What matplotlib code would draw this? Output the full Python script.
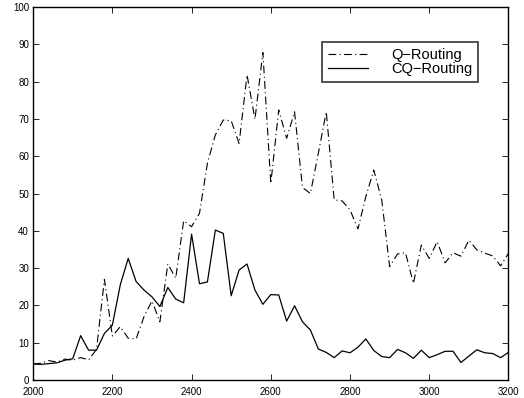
import numpy as np
from matplotlib import pyplot as plt

plt.rcParams['font.family'] = ['Liberation Sans', 'DejaVu Sans']

# load levels sampled every 20 units
load = np.arange(2000, 3201, 20)

q_routing = [4.3, 4.5, 5.2, 4.8, 5.6, 5.3, 6.0, 5.4, 8.2, 27.0,
             11.8, 14.3, 11.2, 11.0, 17.0, 21.2, 15.6, 31.1, 27.3, 42.7,
             41.1, 44.7, 58.1, 65.7, 69.7, 69.5, 63.4, 81.8, 69.9, 87.8,
             52.7, 72.4, 64.8, 71.9, 51.6, 50.0, 60.8, 71.9, 48.3, 48.0,
             45.6, 40.5, 49.2, 56.3, 48.3, 30.4, 33.8, 34.1, 25.9, 36.2,
             32.6, 37.1, 31.4, 34.1, 33.2, 37.5, 34.9, 34.0, 33.3, 30.6,
             34.0]

cq_routing = [4.3, 4.2, 4.4, 4.6, 5.3, 5.7, 11.9, 8.0, 8.0, 12.5,
              14.7, 25.5, 32.6, 26.4, 24.1, 22.3, 19.7, 24.8, 21.7, 20.7,
              39.1, 25.8, 26.3, 40.2, 39.3, 22.6, 29.5, 31.1, 24.1, 20.3,
              22.9, 22.8, 15.8, 19.9, 15.6, 13.4, 8.3, 7.4, 6.0, 7.8,
              7.3, 8.8, 11.0, 7.9, 6.3, 6.0, 8.2, 7.3, 5.8, 8.0,
              6.0, 6.8, 7.7, 7.7, 4.7, 6.4, 8.1, 7.3, 7.1, 6.0,
              7.4]

fig = plt.figure(figsize=(5.24, 3.98), dpi=100)
ax = fig.add_axes([0.0632, 0.0452, 0.9072, 0.9372])

ax.plot(load, q_routing, color='black', lw=0.8, linestyle=(0, (7, 3, 1, 3)), label='Q\u2212Routing')
ax.plot(load, cq_routing, color='black', lw=0.9, linestyle='-', label='CQ\u2212Routing')

ax.set_xlim(2000, 3200)
ax.set_ylim(0, 100)
ax.set_xticks(np.arange(2000, 3201, 200))
ax.set_yticks(np.arange(0, 101, 10))
ax.tick_params(direction='in', top=True, right=True, labelsize=7, length=4, width=0.6)
ax.tick_params(axis='x', pad=5)
ax.tick_params(axis='y', pad=3)
for s in ax.spines.values():
    s.set_linewidth(1.0)

leg = ax.legend(loc='upper right', bbox_to_anchor=(0.936, 0.906), fontsize=10.5, frameon=True,
                fancybox=False, edgecolor='black', handlelength=2.8, handletextpad=1.55,
                borderpad=0.4, labelspacing=0.0, borderaxespad=0)
leg.get_frame().set_linewidth(1.2)

fig.savefig('out.png', dpi=100)
